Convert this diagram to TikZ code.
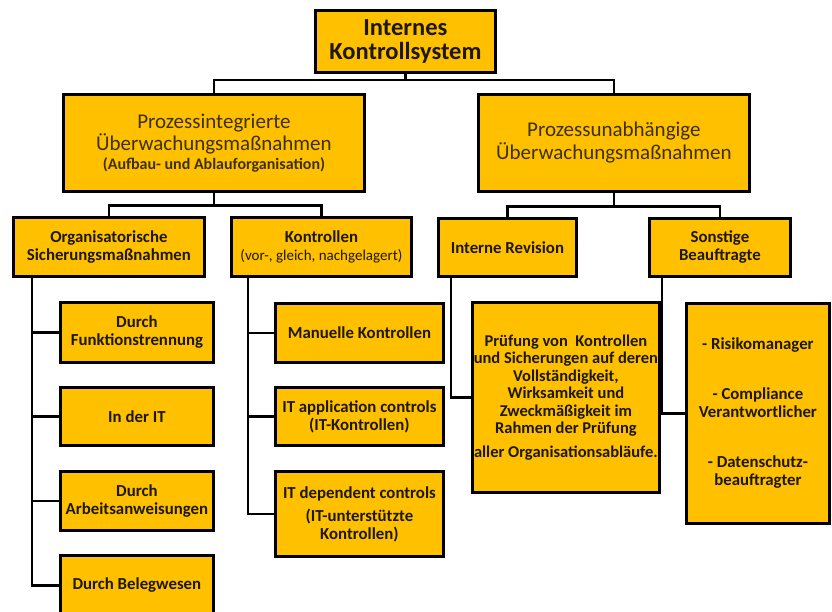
\documentclass[tikz,border=0pt]{standalone}
\usepackage{fontspec}
\setmainfont{Carlito}
\usetikzlibrary{positioning}
\definecolor{kgelb}{RGB}{255,192,0}
\definecolor{kschrift}{RGB}{30,24,0}
\definecolor{kbraun}{RGB}{62,48,0}
\newcommand{\fs}[2]{\fontsize{#1}{#2}\selectfont}
\tikzset{
  box/.style={draw, fill=kgelb, line width=2.8pt, align=center, inner sep=1pt,
    anchor=north west, text=kschrift, font=\bfseries\fs{16.8}{18}},
  verbinder/.style={line width=2.8pt}
}
\begin{document}
\begin{tikzpicture}[x=1pt,y=-1pt]
    \useasboundingbox (0,0) rectangle (832,611);
    \begin{scope}
    \clip (0,0) rectangle (832,611);

    % Spitze
    \node[box, minimum width=180pt, minimum height=62pt, font=\bfseries\fs{24.5}{24}] (iks) at (314,9) {Internes\\Kontrollsystem};

    % Zweite Ebene
    \node[box, minimum width=301pt, minimum height=97pt, text=kbraun, font=\fs{21}{22}] (pi) at (62,93)
        {Prozessintegrierte\\Überwachungsmaßnahmen\\[-3pt]{\bfseries\fs{16}{17}(Aufbau- und Ablauforganisation)}};
    \node[box, minimum width=271pt, minimum height=97pt, text=kbraun, font=\fs{21}{23}] (pu) at (477,93)
        {Prozessunabhängige\\Überwachungsmaßnahmen};

    % Dritte Ebene
    \node[box, minimum width=191pt, minimum height=59pt] (os) at (12,216) {Organisatorische\\Sicherungsmaßnahmen};
    \node[box, minimum width=180pt, minimum height=59pt] (ko) at (230,216)
        {Kontrollen\\{\mdseries\fs{15}{17}(vor-, gleich, nachgelagert)}};
    \node[box, minimum width=138pt, minimum height=58pt] (ir) at (437,217) {Interne Revision};
    \node[box, minimum width=141pt, minimum height=58pt] (sb) at (648,217) {Sonstige\\Beauftragte};

    % Organisatorische Sicherungsmaßnahmen
    \node[box, minimum width=153pt, minimum height=60pt] (os1) at (59,301) {Durch\\Funktionstrennung};
    \node[box, minimum width=153pt, minimum height=58pt] (os2) at (59,386) {In der IT};
    \node[box, minimum width=153pt, minimum height=59pt] (os3) at (59,470) {Durch\\Arbeitsanweisungen};
    \node[box, minimum width=153pt, minimum height=60pt] (os4) at (59,554) {Durch Belegwesen};

    % Kontrollen
    \node[box, minimum width=168pt, minimum height=59pt] (ko1) at (274,302) {Manuelle Kontrollen};
    \node[box, minimum width=168pt, minimum height=58pt] (ko2) at (274,386) {IT application controls\\(IT-Kontrollen)};
    \node[box, minimum width=168pt, minimum height=85pt] (ko3) at (274,470)
        {IT dependent controls\\[5pt](IT-unterstützte\\Kontrollen)};

    % Interne Revision, Sonstige
    \node[box, minimum width=187pt, minimum height=190pt, font=\bfseries\fs{16.5}{17.5}] (ir1) at (471,301)
        {Prüfung von\ \ Kontrollen\\und Sicherungen auf deren\\Vollständigkeit,\\Wirksamkeit und\\Zweckmäßigkeit im\\Rahmen der Prüfung\\[6pt]aller Organisationsabläufe.};
    \node[box, minimum width=143pt, minimum height=220pt] (sb1) at (685,302)
        {- Risikomanager\\[32pt]- Compliance\\Verantwortlicher\\[32pt]- Datenschutz-\\beauftragter};

    % Verbindungen
    \coordinate (bus1) at (iks.south |- 0,80);
    \draw[verbinder] (iks.south) -- (bus1);
    \draw[verbinder] (pi.north) |- (bus1) -| (pu.north);
    \draw[verbinder] (pi.south) -- ++(0,13) coordinate (bus2);
    \draw[verbinder] (os.north) |- (bus2) -| (ko.north);
    \draw[verbinder] (pu.south) -- ++(0,14) coordinate (bus3);
    \draw[verbinder] (ir.north) |- (bus3) -| (sb.north);

    \foreach \k in {os1,os2,os3,os4}
        \draw[verbinder] ([xshift=20pt]os.south west) |- (\k.west);
    \foreach \k in {ko1,ko2,ko3}
        \draw[verbinder] ([xshift=18pt]ko.south west) |- (\k.west);
    \draw[verbinder] ([xshift=14pt]ir.south west) |- (ir1.west);
    \draw[verbinder] ([xshift=14pt]sb.south west) |- (sb1.west);
    \end{scope}
\end{tikzpicture}
\end{document}
